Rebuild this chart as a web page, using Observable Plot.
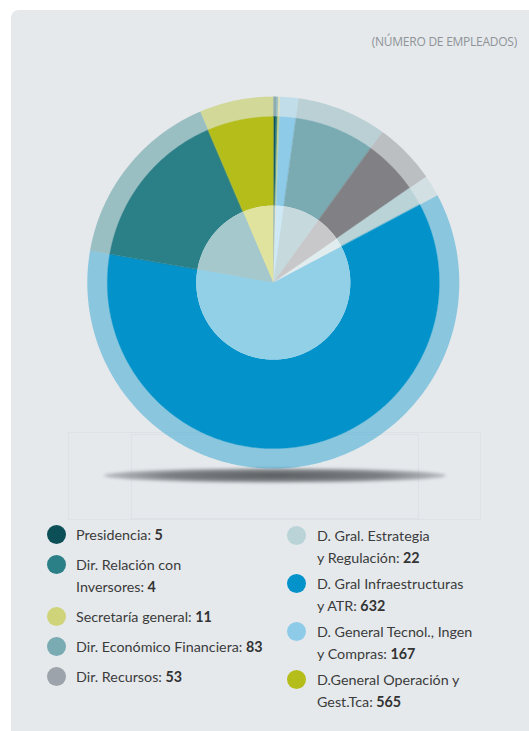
<!DOCTYPE html>
<html>
<head>
<meta charset="utf-8">
<script src="https://cdn.jsdelivr.net/npm/d3@7"></script>
<script src="https://cdn.jsdelivr.net/npm/@observablehq/plot@0.6"></script>
<style>
  html, body { margin: 0; padding: 0; background: #ffffff; }
  #page { position: relative; width: 529px; height: 731px; overflow: hidden; background: #ffffff; }
  #card { position: absolute; left: 11px; top: 10px; right: 0; bottom: 0; background: #e5e9ec; border-top-left-radius: 8px; }
  #subtitle { position: absolute; right: 12px; top: 33px; font-family: "Open Sans", sans-serif; font-size: 12px; color: #8f9397; letter-spacing: -0.25px; }
  .frame { position: absolute; border: 1px solid rgba(205,210,214,0.28); }
  #shadow { position: absolute; left: 104px; top: 468px; width: 342px; height: 15px; border-radius: 50%;
            background: radial-gradient(ellipse at center, rgba(80,84,88,0.95) 0%, rgba(95,99,103,0.8) 45%, rgba(140,145,150,0.35) 75%, rgba(229,233,236,0) 100%);
            filter: blur(1.5px); }
  #chart { position: absolute; left: 0; top: 0; }
  .col { position: absolute; font-family: Lato, "Open Sans", sans-serif; font-size: 14.3px; line-height: 21.5px; color: #3b3b3b; }
  .item { position: relative; }
  .line { display: block; white-space: nowrap; }
  .dot { position: absolute; width: 19px; height: 19px; border-radius: 50%; top: 1.25px; }
  .val { font-weight: 700; color: #333; }
</style>
</head>
<body>
<div id="page">
  <div id="card"></div>
  <div id="subtitle"></div>
  <div class="frame" style="left:68px;top:432px;width:411px;height:86px;"></div>
  <div class="frame" style="left:131px;top:434px;width:286px;height:83px;"></div>
  <div id="shadow"></div>
  <div id="chart"></div>
  <div class="col" id="legLeft" style="left:76px;top:524px;"></div>
  <div class="col" id="legRight" style="left:317px;top:525px;"></div>
</div>
<script>
// ---------- data ----------
const subtitle = "(NÚMERO DE EMPLEADOS)";
const categories = [
  "Presidencia:",
  "Dir. Relación con\nInversores:",
  "Secretaría general:",
  "Dir. Económico Financiera:",
  "Dir. Recursos:",
  "D. Gral. Estrategia\ny Regulación:",
  "D. Gral Infraestructuras\ny ATR:",
  "D. General Tecnol., Ingen\ny Compras:",
  "D.General Operación y\nGest.Tca:"
];
const legendValues = [5, 4, 11, 83, 53, 22, 632, 167, 565];
const categoryColors = ["#0d4f57", "#2b7f87", "#cfd47a", "#7aaab2", "#9ca3aa", "#b9d3d7", "#0393ca", "#8ecbe8", "#b5bd1b"];
// slice colours as drawn in the pie (the grey slice is darker than its legend dot)
const sliceColors = ["#0d4f57", "#2b7f87", "#d3d47f", "#8ecbe8", "#7aaab2", "#808085", "#b9d3d7", "#0393ca", "#2b7f87", "#b5bd1b"];
// slice sizes (degrees of arc, clockwise from 12 o'clock)
const sliceSizes = [0.9, 0.6, 0.6, 5.75, 28.05, 19.4, 6.7, 217.9, 57.0, 23.1];

// ---------- geometry from data ----------
const arcs = d3.pie().sort(null).value(d => d)(sliceSizes);
function band(r0, r1) {
  const pts = [];
  arcs.forEach((a, i) => {
    const n = Math.max(2, Math.ceil((a.endAngle - a.startAngle) / (Math.PI / 360)));
    for (let k = 0; k <= n; k++) {
      const t = a.startAngle + (a.endAngle - a.startAngle) * k / n;
      pts.push({slice: i, color: sliceColors[i],
        x1: r1 * Math.sin(t), y1: r1 * Math.cos(t),
        x2: r0 * Math.sin(t), y2: r0 * Math.cos(t)});
    }
  });
  return pts;
}
const rInner = 77 / 186, rMid = 166 / 186, rOuter = 1;
const ring = band(rMid, rOuter);
const middle = band(rInner, rMid);
const disk = band(0, rInner);

const cx = 273.3, cy = 282.6, R = 186;
const chart = Plot.plot({
  width: 529,
  height: 500,
  margin: 0,
  x: {domain: [-1, 1], range: [cx - R, cx + R], axis: null},
  y: {domain: [-1, 1], range: [cy + R, cy - R], axis: null},
  color: {type: "identity"},
  style: {background: "transparent", overflow: "visible"},
  marks: [
    Plot.area(ring, {x1: "x1", y1: "y1", x2: "x2", y2: "y2", z: "slice", fill: "color", fillOpacity: 0.4}),
    Plot.area(middle, {x1: "x1", y1: "y1", x2: "x2", y2: "y2", z: "slice", fill: "color", stroke: "color", strokeWidth: 0.4}),
    Plot.area(disk, {x1: "x1", y1: "y1", x2: "x2", y2: "y2", z: "slice", fill: "white"}),
    Plot.area(disk, {x1: "x1", y1: "y1", x2: "x2", y2: "y2", z: "slice", fill: "color", fillOpacity: 0.43})
  ]
});
document.getElementById("chart").appendChild(chart);
document.getElementById("subtitle").textContent = subtitle;

// ---------- legend ----------
function addItem(col, i, gap) {
  const item = document.createElement("div");
  item.className = "item";
  item.style.marginBottom = gap + "px";
  const dot = document.createElement("div");
  dot.className = "dot";
  dot.style.background = categoryColors[i];
  dot.style.left = (col.id === "legLeft" ? -29 : -30) + "px";
  item.appendChild(dot);
  const lines = categories[i].split("\n");
  lines.forEach((ln, k) => {
    const row = document.createElement("span");
    row.className = "line";
    row.appendChild(document.createTextNode(ln));
    if (k === lines.length - 1) {
      const v = document.createElement("span");
      v.className = "val";
      v.textContent = " " + legendValues[i];
      row.appendChild(v);
    }
    item.appendChild(row);
  });
  col.appendChild(item);
}
const L = document.getElementById("legLeft"), Rr = document.getElementById("legRight");
categories.forEach((c, i) => i < 5 ? addItem(L, i, 8.5) : addItem(Rr, i, 5));
</script>
</body>
</html>
